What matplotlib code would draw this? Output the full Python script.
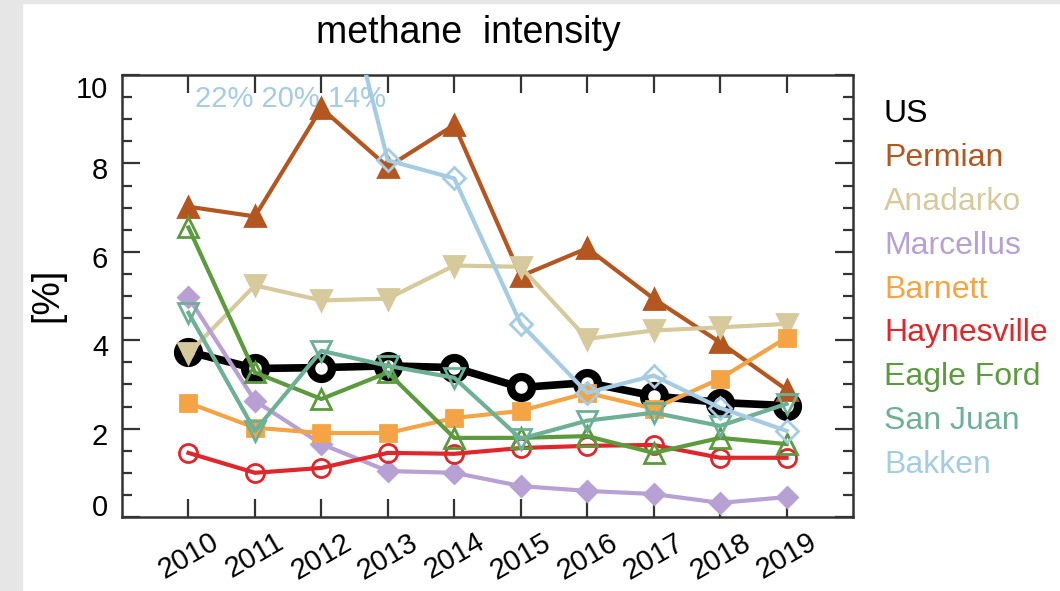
import matplotlib
matplotlib.use("Agg")
import matplotlib.pyplot as plt
from matplotlib.patches import Rectangle
from matplotlib.ticker import MultipleLocator

plt.rcParams['font.family'] = ['Liberation Sans', 'DejaVu Sans']

years = [2010, 2011, 2012, 2013, 2014, 2015, 2016, 2017, 2018, 2019]

us          = [3.74, 3.36, 3.38, 3.42, 3.38, 2.93, 3.04, 2.74, 2.59, 2.52]
permian     = [7.02, 6.80, 9.25, 7.92, 8.87, 5.45, 6.08, 4.94, 3.95, 2.88]
anadarko    = [3.70, 5.24, 4.90, 4.94, 5.69, 5.66, 4.03, 4.22, 4.29, 4.37]
marcellus   = [4.97, 2.63, 1.65, 1.04, 1.00, 0.70, 0.59, 0.52, 0.32, 0.45]
barnett     = [2.58, 2.02, 1.90, 1.90, 2.24, 2.40, 2.81, 2.45, 3.13, 4.06]
haynesville = [1.45, 1.00, 1.11, 1.45, 1.43, 1.56, 1.61, 1.63, 1.34, 1.34]
eagle_ford  = [6.55, 3.27, 2.67, 3.27, 1.79, 1.79, 1.83, 1.45, 1.79, 1.65]
san_juan    = [4.62, 1.95, 3.76, 3.42, 3.15, 1.77, 2.18, 2.36, 2.06, 2.56]
bakken      = [22.0, 20.0, 14.0, 8.07, 7.66, 4.37, 2.81, 3.20, 2.47, 1.95]

names   = ['US', 'Permian', 'Anadarko', 'Marcellus', 'Barnett',
           'Haynesville', 'Eagle Ford', 'San Juan', 'Bakken']
series  = [us, permian, anadarko, marcellus, barnett,
           haynesville, eagle_ford, san_juan, bakken]
colors  = ['#000000', '#b4561f', '#d6c99c', '#b7a0d4', '#f5a445',
           '#e0262b', '#5b9b3d', '#6db095', '#a5cce3']
markers = ['o', '^', 'v', 'D', 's', 'o', '^', 'v', 'D']
filled  = [False, True, True, True, True, False, False, False, False]
msizes  = [15, 14, 14, 10, 12, 13, 14, 14, 11]

yticks = [0, 2, 4, 6, 8, 10]
# small vertical nudges (pixels) for the y tick labels
ytick_nudge = [9, -8, -8, -8, -8, -15]

fig = plt.figure(figsize=(10.6, 5.91), dpi=100)
fig.patch.set_facecolor('white')
# grey frame strips on the left and top edge
fig.patches.append(Rectangle((0, 0), 22 / 1060, 1, transform=fig.transFigure,
                             color='#e6e6e6', zorder=0))
fig.patches.append(Rectangle((0, 1 - 3 / 591), 1, 3 / 591, transform=fig.transFigure,
                             color='#e6e6e6', zorder=0))

ax = fig.add_axes([122 / 1060, 1 - 517 / 591, 731 / 1060, 442 / 591])

for i, (name, vals) in enumerate(zip(names, series)):
    c = colors[i]
    if name == 'US':
        ax.plot(years, vals, color=c, lw=5.5, marker='o', ms=15,
                mfc='white', mec=c, mew=6, zorder=2)
    else:
        ax.plot(years, vals, color=c, lw=3.0, marker=markers[i], ms=msizes[i],
                mfc=c if filled[i] else 'none', mec=c, mew=2.0, zorder=3 + i)

ax.text(2010.1, 9.45, '22% 20% 14%', color=colors[-1], fontsize=21,
        ha='left', va='center')

ax.set_xlim(2009, 2020)
ax.set_ylim(0, 10)
ax.set_xticks(years)
ax.set_xticklabels([str(y) for y in years], rotation=30, fontsize=21)
ax.set_yticks(yticks)
ax.set_yticklabels([])
ax.yaxis.set_minor_locator(MultipleLocator(0.5))
ax.tick_params(axis='both', which='major', direction='in', length=13, width=1.6,
               top=True, right=True, colors='#333333', labelcolor='black')
ax.tick_params(axis='y', which='minor', direction='in', length=7, width=1.6,
               right=True, colors='#333333')
ax.tick_params(axis='x', pad=8)
for sp in ax.spines.values():
    sp.set_linewidth(1.8)
    sp.set_color('#333333')

# y tick labels as texts so each can sit a little off its tick
for v, dy in zip(yticks, ytick_nudge):
    ax.annotate(str(v), xy=(0, v), xycoords=ax.get_yaxis_transform(),
                xytext=(-10, dy * 0.72), textcoords='offset points',
                ha='right', va='center', fontsize=21)

fig.text(468 / 1060, 1 - 33 / 591, 'methane  intensity', fontsize=27,
         ha='center', va='center')
fig.text(47 / 1060, 1 - 295 / 591, '[%]', fontsize=27, rotation=90,
         ha='center', va='center')

for i, name in enumerate(names):
    fig.text(884 / 1060, 1 - (122 + 43.9 * i) / 591, name, color=colors[i],
             fontsize=23, ha='left', va='baseline')

fig.savefig('out.png', dpi=100)
